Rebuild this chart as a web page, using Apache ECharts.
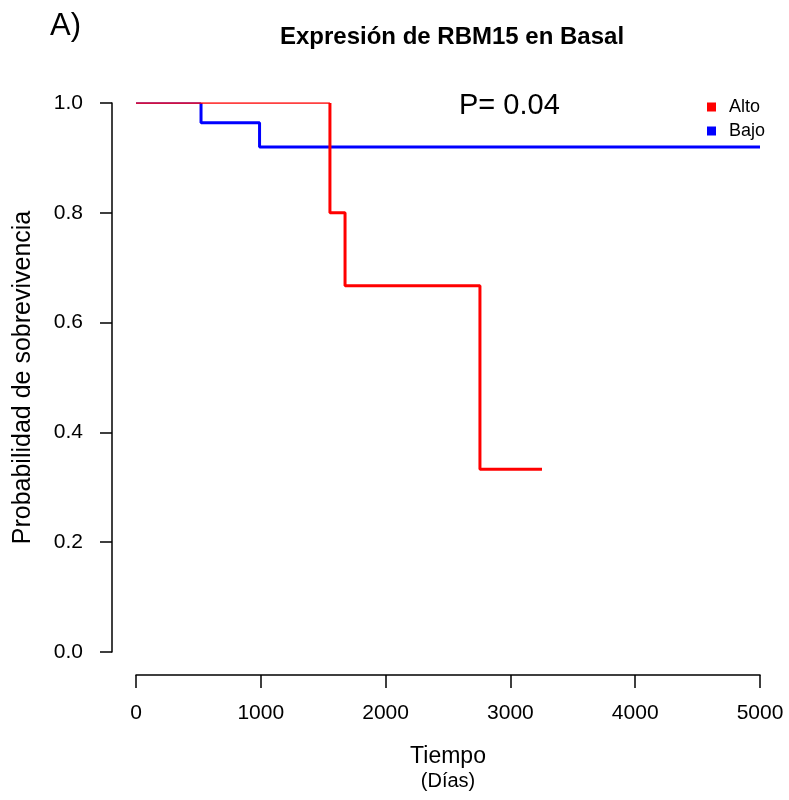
<!DOCTYPE html>
<html>
<head>
<meta charset="utf-8">
<script src="https://cdn.jsdelivr.net/npm/echarts@6/dist/echarts.min.js"></script>
<style>
  html, body { margin: 0; padding: 0; background: #fff; }
  #chart { width: 789px; height: 800px; }
</style>
</head>
<body>
<div id="chart"></div>
<script>
// tiempos (días) y probabilidad de sobrevivencia
var altoInicio = [[0, 1], [1554, 1]];
var altoCurva = [[1554, 1], [1675, 0.8], [2756, 0.667], [3253, 0.333]];
var bajoInicio = [[0, 1], [521, 1]];
var bajoCurva = [[521, 1], [990, 0.964], [5000, 0.92]];
var xTicks = [0, 1000, 2000, 3000, 4000, 5000];
var yTicks = [0, 0.2, 0.4, 0.6, 0.8, 1.0];

var rojo = '#ff0000', azul = '#0000ff';
var fuente = '"Liberation Sans", Arial, sans-serif';

var chart = echarts.init(document.getElementById('chart'));
chart.setOption({
  animation: false,
  textStyle: { fontFamily: fuente, color: '#000' },
  title: [
    {
      text: 'Expresión de RBM15 en Basal',
      left: 447, top: 20, textAlign: 'center',
      textStyle: { fontSize: 24, fontWeight: 'bold', color: '#000', fontFamily: fuente }
    },
    {
      text: 'A)', left: 45, top: 6,
      textStyle: { fontSize: 31, fontWeight: 'normal', color: '#000', fontFamily: fuente }
    },
    {
      text: 'P= 0.04', left: 454, top: 86,
      textStyle: { fontSize: 29, fontWeight: 'normal', color: '#000', fontFamily: fuente }
    }
  ],
  legend: {
    data: ['Alto', 'Bajo'],
    orient: 'vertical',
    left: 702, top: 93,
    icon: 'rect',
    itemWidth: 9, itemHeight: 9, itemGap: 6,
    textStyle: { fontSize: 18, color: '#000', fontFamily: fuente, padding: [0, 0, 0, 8] }
  },
  grid: { left: 136, right: 29, top: 103, bottom: 148 },
  xAxis: {
    type: 'value', min: 0, max: 5000, interval: 1000,
    offset: 23,
    name: '{a|Tiempo}\n{b|(Días)}',
    nameLocation: 'middle', nameGap: 70,
    nameTextStyle: {
      rich: {
        a: { fontSize: 23, lineHeight: 24, color: '#000', fontFamily: fuente },
        b: { fontSize: 20, lineHeight: 24, color: '#000', fontFamily: fuente }
      }
    },
    axisLine: { show: true, onZero: false, lineStyle: { color: '#000', width: 1.5 } },
    axisTick: { show: true, length: 13, lineStyle: { color: '#000', width: 1.5 } },
    axisLabel: {
      margin: 28, fontSize: 21, color: '#000', fontFamily: fuente,
      formatter: function (v) { return xTicks.indexOf(v) >= 0 ? String(v) : ''; }
    },
    splitLine: { show: false }
  },
  yAxis: {
    type: 'value', min: 0, max: 1, interval: 0.2,
    offset: 24,
    name: 'Probabilidad de sobrevivencia',
    nameLocation: 'middle', nameGap: 76,
    nameTextStyle: { fontSize: 25, color: '#000', fontFamily: fuente },
    axisLine: { show: true, onZero: false, lineStyle: { color: '#000', width: 1.5 } },
    axisTick: { show: true, length: 12, lineStyle: { color: '#000', width: 1.5 } },
    axisLabel: {
      margin: 29, fontSize: 21, color: '#000', fontFamily: fuente,
      formatter: function (v) { return v.toFixed(1); }
    },
    splitLine: { show: false }
  },
  series: [
    {
      name: 'Bajo', type: 'line', data: bajoInicio, showSymbol: false,
      lineStyle: { color: azul, width: 1.5 }, itemStyle: { color: azul }
    },
    {
      name: 'Bajo', type: 'line', step: 'start', data: bajoCurva, showSymbol: false,
      lineStyle: { color: azul, width: 3 }, itemStyle: { color: azul }
    },
    {
      name: 'Alto', type: 'line', data: altoInicio, showSymbol: false,
      lineStyle: { color: rojo, width: 1.5 }, itemStyle: { color: rojo }
    },
    {
      name: 'Alto', type: 'line', step: 'start', data: altoCurva, showSymbol: false,
      lineStyle: { color: rojo, width: 3 }, itemStyle: { color: rojo }
    }
  ]
});
</script>
</body>
</html>
